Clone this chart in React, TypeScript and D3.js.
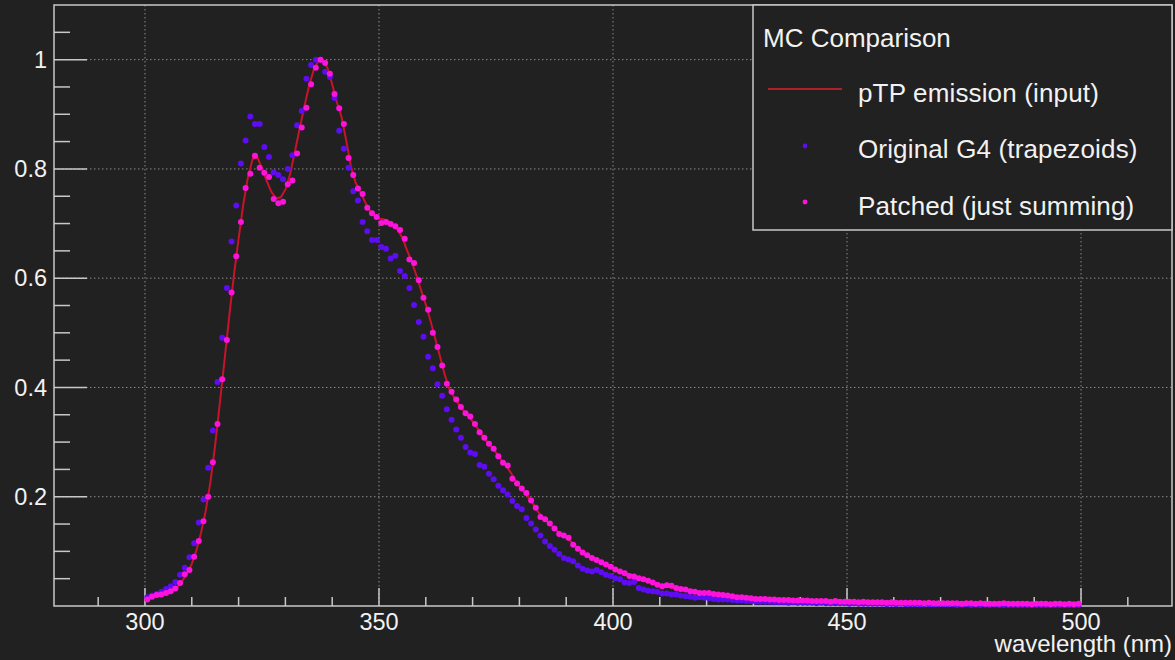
import React from "react";
import * as d3 from "d3";

// histogram bin centres (1 nm bins, 300-500 nm)
const binCenters = d3.range(300.5, 500, 1);

// Patched (just summing)
const patched = [
  0.012, 0.017, 0.020, 0.021, 0.024, 0.027, 0.032, 0.042, 0.058, 0.066,
  0.090, 0.119, 0.155, 0.200, 0.263, 0.333, 0.415, 0.487, 0.574, 0.640,
  0.703, 0.765, 0.791, 0.824, 0.802, 0.793, 0.785, 0.745, 0.737, 0.740,
  0.772, 0.779, 0.828, 0.876, 0.912, 0.955, 0.985, 1.000, 0.994, 0.974,
  0.937, 0.911, 0.882, 0.820, 0.789, 0.764, 0.754, 0.729, 0.719, 0.712,
  0.701, 0.703, 0.699, 0.695, 0.688, 0.672, 0.634, 0.628, 0.596, 0.564,
  0.542, 0.500, 0.474, 0.440, 0.407, 0.392, 0.378, 0.364, 0.353, 0.347,
  0.333, 0.318, 0.308, 0.297, 0.288, 0.274, 0.262, 0.257, 0.233, 0.224,
  0.215, 0.207, 0.193, 0.180, 0.163, 0.159, 0.151, 0.142, 0.132, 0.129,
  0.125, 0.112, 0.105, 0.098, 0.093, 0.088, 0.084, 0.080, 0.076, 0.072,
  0.067, 0.063, 0.060, 0.055, 0.054, 0.051, 0.049, 0.046, 0.043, 0.039,
  0.036, 0.038, 0.037, 0.033, 0.031, 0.030, 0.027, 0.026, 0.024, 0.024,
  0.024, 0.022, 0.021, 0.020, 0.019, 0.018, 0.016, 0.016, 0.015, 0.014,
  0.013, 0.013, 0.013, 0.012, 0.012, 0.011, 0.011, 0.011, 0.010, 0.010,
  0.010, 0.010, 0.009, 0.009, 0.009, 0.009, 0.008, 0.009, 0.008, 0.008,
  0.008, 0.008, 0.007, 0.008, 0.007, 0.007, 0.007, 0.007, 0.006, 0.007,
  0.006, 0.006, 0.006, 0.006, 0.006, 0.006, 0.005, 0.006, 0.005, 0.005,
  0.005, 0.005, 0.005, 0.005, 0.004, 0.005, 0.005, 0.004, 0.005, 0.004,
  0.004, 0.004, 0.004, 0.005, 0.004, 0.004, 0.004, 0.004, 0.004, 0.003,
  0.004, 0.004, 0.004, 0.003, 0.004, 0.004, 0.003, 0.004, 0.003, 0.004,
];

// Original G4 (trapezoids)
const original = [
  0.016, 0.019, 0.022, 0.026, 0.031, 0.036, 0.044, 0.057, 0.070, 0.089,
  0.115, 0.153, 0.195, 0.253, 0.321, 0.410, 0.491, 0.582, 0.667, 0.733,
  0.810, 0.852, 0.896, 0.882, 0.882, 0.840, 0.822, 0.794, 0.789, 0.781,
  0.800, 0.825, 0.880, 0.906, 0.965, 0.990, 1.000, 1.000, 0.978, 0.968,
  0.930, 0.870, 0.837, 0.802, 0.759, 0.742, 0.703, 0.686, 0.670, 0.670,
  0.657, 0.654, 0.636, 0.641, 0.613, 0.604, 0.582, 0.551, 0.520, 0.493,
  0.456, 0.435, 0.406, 0.385, 0.360, 0.341, 0.323, 0.308, 0.291, 0.281,
  0.278, 0.258, 0.255, 0.242, 0.232, 0.220, 0.212, 0.204, 0.192, 0.183,
  0.177, 0.161, 0.151, 0.140, 0.129, 0.118, 0.110, 0.103, 0.095, 0.088,
  0.085, 0.082, 0.074, 0.068, 0.065, 0.063, 0.066, 0.062, 0.057, 0.055,
  0.051, 0.049, 0.043, 0.042, 0.044, 0.033, 0.030, 0.028, 0.027, 0.026,
  0.023, 0.023, 0.021, 0.021, 0.019, 0.018, 0.017, 0.015, 0.016, 0.015,
  0.014, 0.013, 0.012, 0.012, 0.012, 0.011, 0.010, 0.010, 0.009, 0.009,
  0.008, 0.008, 0.008, 0.008, 0.007, 0.007, 0.007, 0.006, 0.007, 0.006,
  0.006, 0.006, 0.006, 0.005, 0.006, 0.005, 0.005, 0.005, 0.005, 0.005,
  0.004, 0.005, 0.004, 0.004, 0.004, 0.004, 0.004, 0.004, 0.003, 0.004,
  0.003, 0.004, 0.003, 0.003, 0.003, 0.003, 0.003, 0.003, 0.003, 0.003,
  0.003, 0.003, 0.003, 0.002, 0.003, 0.003, 0.002, 0.003, 0.002, 0.003,
  0.002, 0.003, 0.002, 0.002, 0.002, 0.002, 0.002, 0.002, 0.002, 0.002,
  0.002, 0.002, 0.002, 0.002, 0.002, 0.002, 0.002, 0.002, 0.002, 0.002,
];

// pTP emission (input) spectrum
const inputNm = [
  300, 301, 302, 303, 304, 305, 306, 307, 308, 309,
  310, 311, 312, 313, 314, 315, 316, 317, 318, 319,
  320, 321, 322, 323, 324, 325, 326, 327, 328, 329,
  330, 331, 332, 333, 334, 335, 336, 337, 338, 339,
  340, 341, 342, 343, 344, 345, 346, 347, 348, 349,
  350, 351, 352, 353, 354, 355, 356, 357, 358, 359,
  360, 361, 362, 363, 364, 365, 366, 367, 368, 369,
  370, 371, 372, 373, 374, 375, 376, 377, 378, 379,
  380, 381, 382, 383, 384, 385, 386, 387, 388, 389,
  390, 391, 392, 393, 394, 395, 396, 397, 398, 399,
  400, 405, 410, 415, 420, 425, 430, 435, 440, 445,
  450, 455, 460, 465, 470, 475, 480, 485, 490, 495, 500,
];
const inputVal = [
  0.010, 0.014, 0.017, 0.019, 0.021, 0.024, 0.028, 0.035, 0.046, 0.060,
  0.077, 0.102, 0.135, 0.175, 0.228, 0.295, 0.372, 0.450, 0.530, 0.605,
  0.672, 0.735, 0.785, 0.818, 0.822, 0.800, 0.778, 0.758, 0.746, 0.748,
  0.762, 0.790, 0.830, 0.872, 0.912, 0.950, 0.980, 0.997, 0.998, 0.985,
  0.955, 0.922, 0.895, 0.852, 0.805, 0.775, 0.758, 0.740, 0.724, 0.715,
  0.709, 0.708, 0.704, 0.697, 0.688, 0.674, 0.651, 0.630, 0.605, 0.578,
  0.552, 0.522, 0.490, 0.458, 0.425, 0.398, 0.383, 0.370, 0.358, 0.348,
  0.338, 0.326, 0.313, 0.302, 0.292, 0.281, 0.269, 0.259, 0.246, 0.232,
  0.219, 0.209, 0.198, 0.186, 0.172, 0.162, 0.154, 0.146, 0.138, 0.131,
  0.125, 0.118, 0.110, 0.102, 0.095, 0.090, 0.086, 0.082, 0.078, 0.074,
  0.070, 0.052, 0.038, 0.030, 0.024, 0.019, 0.014, 0.012, 0.010, 0.009,
  0.008, 0.007, 0.006, 0.006, 0.005, 0.005, 0.004, 0.004, 0.004, 0.004, 0.003,
];

const xMajor = [300, 350, 400, 450, 500];
const xMinor = [290, 310, 320, 330, 340, 360, 370, 380, 390, 410, 420, 430, 440, 460, 470, 480, 490, 510];
const yMajor = [0.2, 0.4, 0.6, 0.8, 1];
const yMinor = [0.05, 0.1, 0.15, 0.25, 0.3, 0.35, 0.45, 0.5, 0.55, 0.65, 0.7, 0.75, 0.85, 0.9, 0.95, 1.05];

const legendTitle = "MC Comparison";
const seriesNames = ["pTP emission (input)", "Original G4 (trapezoids)", "Patched (just summing)"];

const W = 1175;
const H = 660;
const frame = { left: 54, right: 1172, top: 5, bottom: 606 };

const BG = "#212121";
const AXIS = "#c8c8c8";
const GRID = "#8a8a8a";
const TEXT = "#f2f2f2";
const LINE_C = "#c8142a";
const ORIG_C = "#5e0cf2";
const PATCH_C = "#ff12dc";
const FONT = "'Liberation Sans', Arial, Helvetica, sans-serif";

export default function App() {
  const x = d3.scaleLinear().domain([280.56, 519.44]).range([frame.left, frame.right]);
  const y = d3.scaleLinear().domain([0, 1.1]).range([frame.bottom, frame.top]);

  const line = d3
    .line<number>()
    .x((_, i) => x(inputNm[i]))
    .y((d) => y(d));

  const legend = { x: 753, y: 5, w: 419, h: 225 };

  return (
    <svg
      width={W}
      height={H}
      style={{ position: "absolute", left: 0, top: 0, display: "block" }}
      fontFamily={FONT}
    >
      <rect width={W} height={H} fill={BG} />

      {/* grid */}
      <g stroke={GRID} strokeWidth={1} strokeDasharray="1.5,2.5">
        {xMajor.map((v) => (
          <line key={"gx" + v} x1={x(v)} x2={x(v)} y1={frame.top} y2={frame.bottom} />
        ))}
        {yMajor.map((v) => (
          <line key={"gy" + v} x1={frame.left} x2={frame.right} y1={y(v)} y2={y(v)} />
        ))}
      </g>

      {/* frame */}
      <rect
        x={frame.left}
        y={frame.top}
        width={frame.right - frame.left}
        height={frame.bottom - frame.top}
        fill="none"
        stroke={AXIS}
        strokeWidth={1.5}
      />

      {/* ticks */}
      <g stroke={AXIS} strokeWidth={1.5}>
        {xMajor.map((v) => (
          <line key={"tx" + v} x1={x(v)} x2={x(v)} y1={frame.bottom} y2={frame.bottom - 18} />
        ))}
        {xMinor.map((v) => (
          <line key={"mx" + v} x1={x(v)} x2={x(v)} y1={frame.bottom} y2={frame.bottom - 9} />
        ))}
        {yMajor.map((v) => (
          <line key={"ty" + v} x1={frame.left} x2={frame.left + 33} y1={y(v)} y2={y(v)} />
        ))}
        {yMinor.map((v) => (
          <line key={"my" + v} x1={frame.left} x2={frame.left + 16} y1={y(v)} y2={y(v)} />
        ))}
      </g>

      {/* tick labels */}
      <g fill={TEXT} fontSize={23.5}>
        {xMajor.map((v) => (
          <text key={"lx" + v} x={x(v)} y={630} textAnchor="middle">
            {v}
          </text>
        ))}
        {yMajor.map((v) => (
          <text key={"ly" + v} x={47} y={y(v) + 8.3} textAnchor="end">
            {d3.format("~g")(v)}
          </text>
        ))}
      </g>
      <text x={frame.right} y={652} textAnchor="end" fill={TEXT} fontSize={24}>
        wavelength (nm)
      </text>

      {/* series */}
      <path d={line(inputVal) ?? ""} fill="none" stroke={LINE_C} strokeWidth={2} />
      <g fill={ORIG_C}>
        {original.map((v, i) => (
          <circle key={"o" + i} cx={x(binCenters[i])} cy={y(v)} r={3} />
        ))}
      </g>
      <g fill={PATCH_C}>
        {patched.map((v, i) => (
          <circle key={"p" + i} cx={x(binCenters[i])} cy={y(v)} r={3} />
        ))}
      </g>

      {/* legend */}
      <rect x={legend.x} y={legend.y} width={legend.w} height={legend.h} fill={BG} stroke={AXIS} strokeWidth={1.5} />
      <text x={763} y={46.5} fill={TEXT} fontSize={26}>
        {legendTitle}
      </text>
      <line x1={768} x2={842} y1={89} y2={89} stroke="#b01e26" strokeWidth={2} />
      <circle cx={805} cy={146} r={2.4} fill={ORIG_C} />
      <circle cx={805} cy={202} r={2.4} fill={PATCH_C} />
      {seriesNames.map((s, i) => (
        <text key={s} x={858} y={101.5 + i * 56.7} fill={TEXT} fontSize={26} letterSpacing={0.15}>
          {s}
        </text>
      ))}
    </svg>
  );
}
